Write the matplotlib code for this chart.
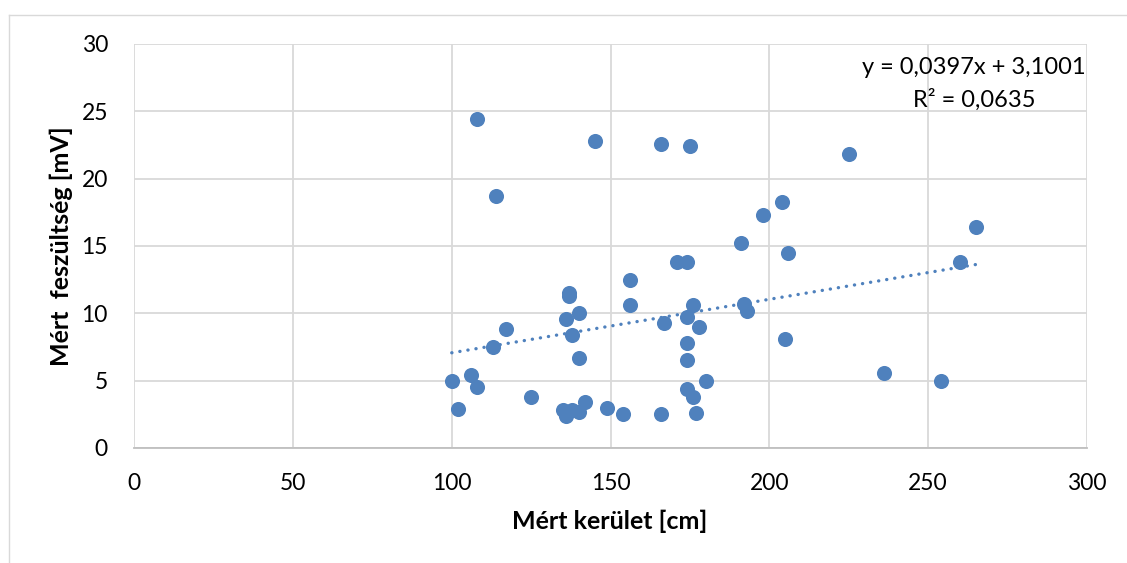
import matplotlib
matplotlib.use("Agg")
import matplotlib.pyplot as plt
from matplotlib.lines import Line2D
import numpy as np

plt.rcParams['font.family'] = ['Lato', 'DejaVu Sans']

# Data
kerulet_cm = [108, 145, 166, 175, 114, 171, 174, 156, 137, 137,
              156, 176, 140, 136, 174, 167, 178, 117, 138, 113,
              174, 140, 174, 100, 106, 108, 180, 174, 176, 102,
              125, 142, 135, 136, 138, 140, 149, 154, 166, 177,
              204, 198, 191, 206, 192, 193, 205, 225, 236, 254,
              260, 265]
feszultseg_mV = [24.4, 22.8, 22.6, 22.4, 18.7, 13.8, 13.8, 12.5, 11.5, 11.3,
                 10.6, 10.6, 10.0, 9.6, 9.7, 9.3, 9.0, 8.8, 8.4, 7.5,
                 7.8, 6.7, 6.5, 5.0, 5.4, 4.5, 5.0, 4.4, 3.8, 2.9,
                 3.8, 3.4, 2.8, 2.4, 2.8, 2.7, 3.0, 2.5, 2.5, 2.6,
                 18.3, 17.3, 15.2, 14.5, 10.7, 10.2, 8.1, 21.8, 5.6, 5.0,
                 13.8, 16.4]
trend_slope = 0.0397
trend_intercept = 3.1001
eq_label = "y = 0,0397x + 3,1001"
r2_label = "R² = 0,0635"
x_ticks = [0, 50, 100, 150, 200, 250, 300]
y_ticks = [0, 5, 10, 15, 20, 25, 30]
x_title = "Mért kerület [cm]"
y_title = "Mért  feszültség [mV]"

W, H = 1127, 563
fig = plt.figure(figsize=(W / 100, H / 100), dpi=100)
ax = fig.add_axes([134.3 / W, 1 - 448 / H, (1086.7 - 134.3) / W, (448 - 44) / H])

blue = '#4F81BD'
grid = '#D9D9D9'

ax.scatter(kerulet_cm, feszultseg_mV, s=118, color=blue, zorder=3, linewidths=0)

xs = np.array([min(kerulet_cm), max(kerulet_cm)])
ax.plot(xs, trend_slope * xs + trend_intercept, color=blue, lw=2.4,
        linestyle=(0, (0.05, 2.4)), dash_capstyle='round', zorder=2)

ax.set_xlim(0, 300)
ax.set_ylim(0, 30)
ax.set_xticks(x_ticks)
ax.set_yticks(y_ticks)
ax.grid(True, color=grid, lw=1.3, zorder=0)
ax.set_axisbelow(True)
for side in ['top', 'right', 'left']:
    ax.spines[side].set_visible(False)
ax.spines['bottom'].set_color('#BFBFBF')
ax.spines['bottom'].set_linewidth(1.3)
ax.tick_params(length=0, labelsize=16.5, colors='black')
ax.tick_params(axis='x', pad=18)
ax.tick_params(axis='y', pad=19)

ax.set_xlabel(x_title, fontsize=18, fontweight='bold', va='center')
ax.xaxis.set_label_coords((610 - 134.3) / 952.4, (448 - 521) / 404)
ax.set_ylabel(y_title, fontsize=18, fontweight='bold', va='center')
ax.yaxis.set_label_coords((61 - 134.3) / 952.4, 0.5)

fig.text(974 / W, 1 - 68 / H, eq_label, ha='center', va='center', fontsize=17)
fig.text(974 / W, 1 - 100 / H, r2_label, ha='center', va='center', fontsize=17)

# outer chart border (cropped at right and bottom)
fig.add_artist(Line2D([8.5 / W, 8.5 / W], [0, 1 - 15 / H], transform=fig.transFigure,
                      color=grid, lw=1.0))
fig.add_artist(Line2D([8.5 / W, 1], [1 - 15 / H, 1 - 15 / H], transform=fig.transFigure,
                      color=grid, lw=1.0))

fig.savefig('out.png', dpi=100)
